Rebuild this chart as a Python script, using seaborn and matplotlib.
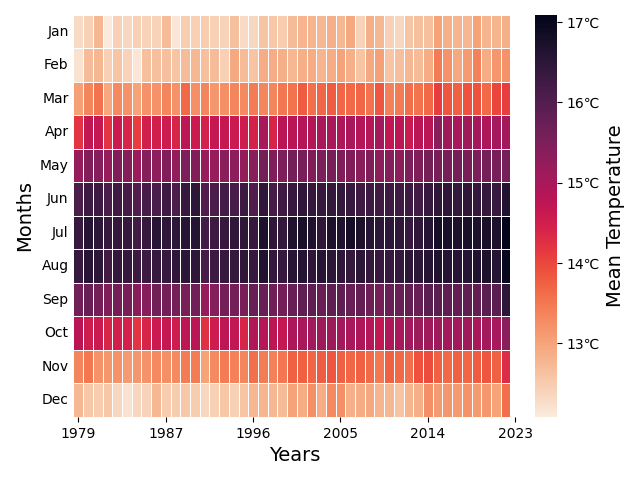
import numpy as np
import pandas as pd
import seaborn as sns
import matplotlib.pyplot as plt

# years 1979-2023, monthly mean temperature (deg C)
years = list(range(1979, 2024))
months = ['Jan', 'Feb', 'Mar', 'Apr', 'May', 'Jun',
          'Jul', 'Aug', 'Sep', 'Oct', 'Nov', 'Dec']

jan = [12.3, 12.45, 12.75, 12.08, 12.45, 12.35, 12.45, 12.4, 12.4, 12.7, 12.15, 12.5,
       12.45, 12.5, 12.45, 12.4, 12.65, 12.3, 12.35, 12.6, 12.55, 12.5, 12.7, 12.8,
       12.8, 12.75, 12.85, 12.75, 12.95, 12.4, 12.85, 12.75, 12.45, 12.35, 12.6, 12.65,
       12.65, 13.0, 12.85, 12.8, 12.75, 13.0, 12.8, 12.8, 12.85]
feb = [12.2, 12.7, 12.75, 12.45, 12.6, 12.4, 12.15, 12.65, 12.65, 12.65, 12.6, 12.7,
       12.75, 12.65, 12.7, 12.45, 12.95, 12.7, 12.6, 12.9, 12.9, 12.85, 12.75, 12.85,
       12.9, 12.8, 12.9, 13.0, 12.85, 12.6, 12.95, 13.05, 12.6, 12.65, 12.75, 12.7,
       12.9, 13.45, 13.2, 12.95, 13.1, 13.4, 12.9, 13.15, 13.2]
mar = [13.05, 13.35, 13.55, 12.95, 13.3, 13.2, 13.0, 13.2, 13.2, 13.35, 13.2, 13.65,
       13.25, 13.35, 13.15, 13.25, 13.35, 13.3, 13.45, 13.35, 13.35, 13.5, 13.55, 13.8,
       13.6, 13.7, 13.8, 13.7, 13.65, 13.7, 13.55, 13.85, 13.4, 13.45, 13.6, 13.55,
       13.65, 14.1, 13.85, 13.75, 13.9, 13.9, 13.65, 14.0, 14.1]
apr = [14.2, 14.7, 14.65, 14.2, 14.6, 14.4, 14.1, 14.5, 14.5, 14.55, 14.4, 14.75,
       14.6, 14.45, 14.65, 14.65, 14.6, 14.55, 14.45, 15.0, 14.4, 14.8, 14.8, 14.85,
       14.85, 15.0, 15.0, 14.9, 15.0, 14.85, 14.85, 15.05, 14.7, 14.75, 14.6, 14.8,
       14.8, 15.35, 15.1, 15.0, 15.1, 15.05, 14.95, 15.05, 15.05]
may = [15.2, 15.45, 15.4, 15.2, 15.45, 15.4, 15.15, 15.4, 15.3, 15.45, 15.25, 15.5,
       15.45, 15.2, 15.2, 15.35, 15.3, 15.25, 15.35, 15.6, 15.45, 15.5, 15.6, 15.55,
       15.45, 15.5, 15.55, 15.45, 15.45, 15.35, 15.45, 15.3, 15.4, 15.3, 15.5, 15.45,
       15.6, 15.55, 15.55, 15.6, 15.55, 15.5, 15.6, 15.55, 15.6]
jun = [16.1, 16.3, 16.3, 16.1, 16.25, 16.15, 16.0, 16.15, 16.1, 16.25, 16.1, 16.35,
       16.5, 16.05, 16.1, 16.2, 16.15, 16.3, 16.05, 16.45, 16.15, 16.25, 16.35, 16.45,
       16.4, 16.35, 16.4, 16.4, 16.35, 16.25, 16.3, 16.25, 16.3, 16.25, 16.3, 16.2,
       16.35, 16.45, 16.45, 16.4, 16.45, 16.4, 16.4, 16.35, 16.65]
jul = [16.35, 16.6, 16.5, 16.35, 16.4, 16.35, 16.2, 16.35, 16.55, 16.45, 16.5, 16.55,
       16.6, 16.2, 16.3, 16.35, 16.45, 16.45, 16.35, 16.7, 16.45, 16.4, 16.65, 16.75,
       16.65, 16.45, 16.7, 16.65, 16.8, 16.7, 16.6, 16.5, 16.5, 16.45, 16.35, 16.45,
       16.6, 16.8, 16.75, 16.7, 16.75, 16.7, 16.75, 16.7, 17.09]
aug = [16.35, 16.55, 16.5, 16.2, 16.4, 16.35, 16.3, 16.3, 16.35, 16.35, 16.45, 16.5,
       16.45, 16.15, 16.3, 16.35, 16.4, 16.45, 16.35, 16.65, 16.4, 16.35, 16.55, 16.6,
       16.45, 16.55, 16.5, 16.45, 16.4, 16.5, 16.4, 16.35, 16.35, 16.4, 16.5, 16.5,
       16.6, 16.65, 16.6, 16.55, 16.6, 16.65, 16.7, 16.6, 17.0]
sep = [15.65, 15.75, 15.6, 15.45, 15.6, 15.55, 15.35, 15.4, 15.65, 15.6, 15.6, 15.55,
       15.65, 15.2, 15.4, 15.6, 15.6, 15.55, 15.75, 15.75, 15.65, 15.6, 15.75, 15.85,
       15.85, 15.75, 15.85, 15.85, 15.75, 15.8, 15.7, 15.6, 15.75, 15.75, 15.8, 15.75,
       15.9, 15.9, 15.85, 15.8, 15.85, 15.8, 15.9, 15.9, 16.5]
oct_ = [14.8, 14.55, 14.6, 14.4, 14.5, 14.45, 14.2, 14.4, 14.6, 14.65, 14.55, 14.75,
        14.8, 14.25, 14.55, 14.75, 14.7, 14.4, 14.9, 14.85, 14.75, 14.65, 14.95, 15.0,
        15.05, 15.1, 15.1, 15.05, 15.0, 14.95, 14.85, 14.7, 14.9, 15.0, 15.05, 15.15,
        15.1, 15.1, 15.05, 15.05, 15.1, 15.0, 15.05, 15.0, 15.35]
nov = [13.35, 13.5, 13.2, 13.15, 13.2, 13.1, 13.15, 13.2, 13.3, 13.25, 13.3, 13.45,
       13.45, 13.0, 13.3, 13.45, 13.4, 13.35, 13.6, 13.45, 13.4, 13.5, 13.75, 13.75,
       13.7, 13.8, 13.85, 13.75, 13.7, 13.75, 13.65, 13.5, 13.75, 13.65, 13.6, 13.9,
       13.95, 13.75, 13.65, 13.75, 13.7, 13.8, 13.85, 13.75, 14.3]
dec = [12.75, 12.55, 12.5, 12.55, 12.35, 12.2, 12.35, 12.4, 12.75, 12.5, 12.5, 12.55,
       12.5, 12.35, 12.45, 12.55, 12.45, 12.6, 12.75, 12.8, 12.75, 12.7, 13.0, 12.9,
       13.25, 12.9, 13.3, 13.25, 12.85, 12.9, 12.95, 12.8, 12.75, 12.6, 12.8, 12.85,
       13.25, 13.1, 13.15, 13.1, 13.2, 13.1, 13.15, 13.0, 13.6]

temps = pd.DataFrame([jan, feb, mar, apr, may, jun, jul, aug, sep, oct_, nov, dec],
                     index=months, columns=years)

fig = plt.figure(figsize=(6.4, 4.8), dpi=100)
ax = fig.add_axes([0.1148, 0.1313, 0.6903, 0.8375])
cax = fig.add_axes([0.836, 0.1313, 0.0344, 0.8375])

sns.heatmap(temps, ax=ax, cbar_ax=cax, cmap='rocket_r', linewidths=0.5,
            linecolor='white', cbar_kws={'format': '%d℃'})

# 6 evenly spread year ticks
ax.set_xticks(np.arange(0.5, len(years) + 1, 9))
ax.set_xticklabels(np.linspace(1979, 2023, 6).astype(int), rotation=0)
ax.set_yticklabels(months, rotation=0)
ax.tick_params(axis='y', length=0)

ax.set_xlabel('Years', size=14)
ax.set_ylabel('Months', size=14)
cax.set_ylabel('Mean Temperature', size=14)

plt.savefig('out.png')
